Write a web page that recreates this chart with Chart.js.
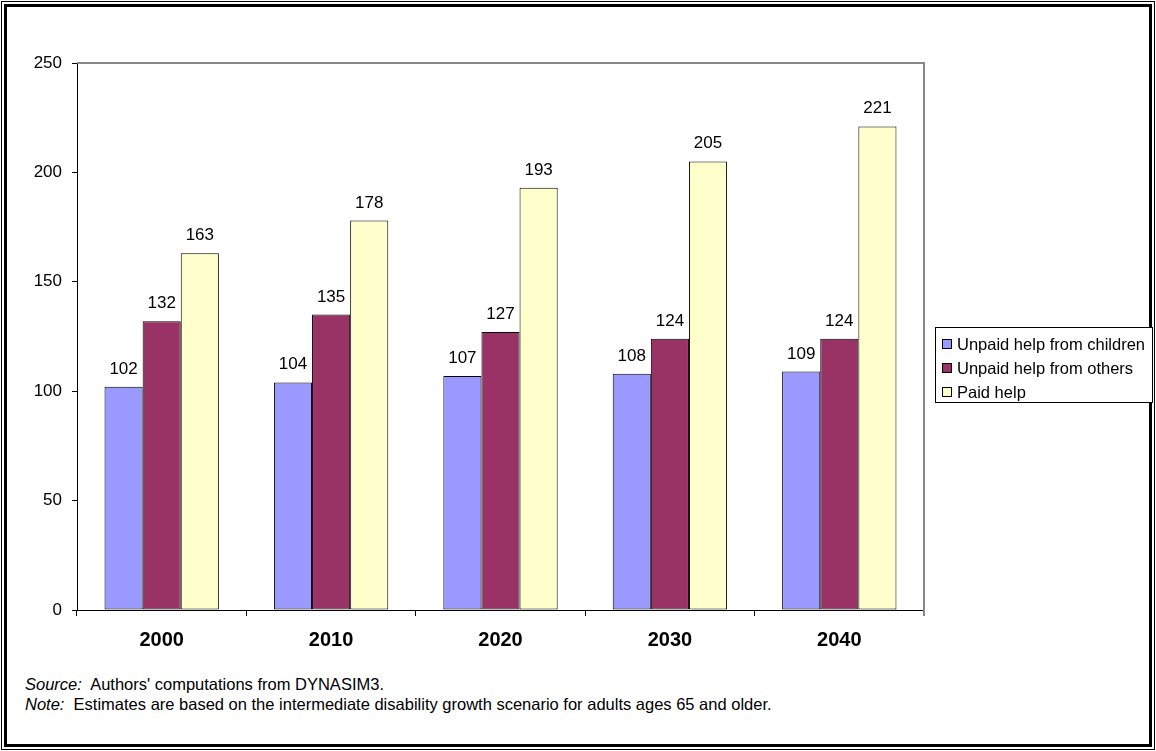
<!DOCTYPE html>
<html>
<head>
<meta charset="utf-8">
<script src="https://cdn.jsdelivr.net/npm/chart.js@4"></script>
<style>
  html, body { margin: 0; padding: 0; background: #fff; }
  body { width: 1156px; height: 751px; position: relative; overflow: hidden; font-family: Arial, "Liberation Sans", sans-serif; }
  .frame-outer { position: absolute; left: 1px; top: 1px; width: 1154px; height: 749px; box-sizing: border-box; border: 1px solid #000; }
  .frame-inner { position: absolute; left: 4px; top: 4px; width: 1148px; height: 743px; box-sizing: border-box; border: 3px solid #000; }
  #chart { position: absolute; left: 0; top: 0; }
  #legend { position: absolute; left: 935px; top: 327px; width: 218px; height: 76px; box-sizing: border-box; border: 1px solid #000; background: #fff; padding-top: 4px; }
  .item { height: 24px; line-height: 24px; font-size: 16.5px; color: #000; white-space: nowrap; position: relative; padding-left: 21px; }
  .swatch { position: absolute; left: 6px; top: 7px; width: 10px; height: 10px; box-sizing: border-box; border: 1px solid #000; }
  .note { position: absolute; left: 25px; font-size: 16.5px; line-height: 20px; color: #000; white-space: nowrap; }
</style>
</head>
<body>
<div class="frame-outer"></div>
<div class="frame-inner"></div>
<canvas id="chart" width="1156" height="660"></canvas>
<div id="legend"></div>
<div class="note" style="top:674px;"><i>Source:</i>&nbsp; Authors' computations from DYNASIM3.</div>
<div class="note" style="top:694px;"><i>Note:</i>&nbsp; Estimates are based on the intermediate disability growth scenario for adults ages 65 and older.</div>
<script>
// Years on the category axis
const categories = ['2000', '2010', '2020', '2030', '2040'];

// Series values
const fromChildren = [102, 104, 107, 108, 109];
const fromOthers   = [132, 135, 127, 124, 124];
const paidHelp     = [163, 178, 193, 205, 221];

// Value axis range
const yMin = 0;
const yMax = 250;
const yStep = 50;

const seriesNames = ['Unpaid help from children', 'Unpaid help from others', 'Paid help'];
const seriesColors = ['#9999FF', '#993366', '#FFFFCC'];

const FONT = 'Arial, "Liberation Sans", sans-serif';

// Gray frame along the top and right of the plot area
const plotFrame = {
  id: 'plotFrame',
  beforeDatasetsDraw(chart) {
    const { ctx, chartArea: a } = chart;
    ctx.save();
    ctx.strokeStyle = '#888888';
    ctx.lineWidth = 2;
    ctx.beginPath();
    ctx.moveTo(a.left, a.top);
    ctx.lineTo(a.right, a.top);
    ctx.lineTo(a.right, a.bottom + 6);
    ctx.stroke();
    ctx.restore();
  }
};

// Value printed above each bar
const barValues = {
  id: 'barValues',
  afterDatasetsDraw(chart) {
    const { ctx } = chart;
    ctx.save();
    ctx.font = '17px ' + FONT;
    ctx.fillStyle = '#000';
    ctx.textAlign = 'center';
    ctx.textBaseline = 'alphabetic';
    chart.data.datasets.forEach((ds, i) => {
      const meta = chart.getDatasetMeta(i);
      meta.data.forEach((bar, j) => {
        ctx.fillText(String(ds.data[j]), bar.x, bar.y - 13);
      });
    });
    ctx.restore();
  }
};

const chart = new Chart(document.getElementById('chart'), {
  type: 'bar',
  data: {
    labels: categories,
    datasets: [
      { label: seriesNames[0], data: fromChildren, backgroundColor: seriesColors[0] },
      { label: seriesNames[1], data: fromOthers,   backgroundColor: seriesColors[1] },
      { label: seriesNames[2], data: paidHelp,     backgroundColor: seriesColors[2] }
    ].map(d => Object.assign(d, { borderColor: '#000', borderWidth: 1, borderSkipped: false,
                                   categoryPercentage: 0.675, barPercentage: 1 }))
  },
  options: {
    responsive: false,
    devicePixelRatio: 1,
    animation: false,
    layout: { padding: { left: 0, top: 63, right: 232, bottom: 0 } },
    plugins: { legend: { display: false }, tooltip: { enabled: false } },
    scales: {
      x: {
        afterFit(scale) { scale.height = 50; },
        grid: { offset: true, drawOnChartArea: false, tickLength: 6, color: '#000', lineWidth: 1 },
        border: { color: '#000', width: 1 },
        ticks: { font: { family: FONT, size: 20, weight: 'bold' }, color: '#000', padding: 12, maxRotation: 0 }
      },
      y: {
        min: yMin,
        max: yMax,
        afterFit(scale) { scale.width = 77; },
        grid: { drawOnChartArea: false, tickLength: 5, color: '#000', lineWidth: 1 },
        border: { color: '#000', width: 1 },
        ticks: { stepSize: yStep, font: { family: FONT, size: 17 }, color: '#000', padding: 10 }
      }
    }
  },
  plugins: [plotFrame, barValues]
});

// Legend built from the chart's datasets
const legendEl = document.getElementById('legend');
chart.data.datasets.forEach(ds => {
  const row = document.createElement('div');
  row.className = 'item';
  const sw = document.createElement('span');
  sw.className = 'swatch';
  sw.style.background = ds.backgroundColor;
  row.appendChild(sw);
  row.appendChild(document.createTextNode(ds.label));
  legendEl.appendChild(row);
});
</script>
</body>
</html>
